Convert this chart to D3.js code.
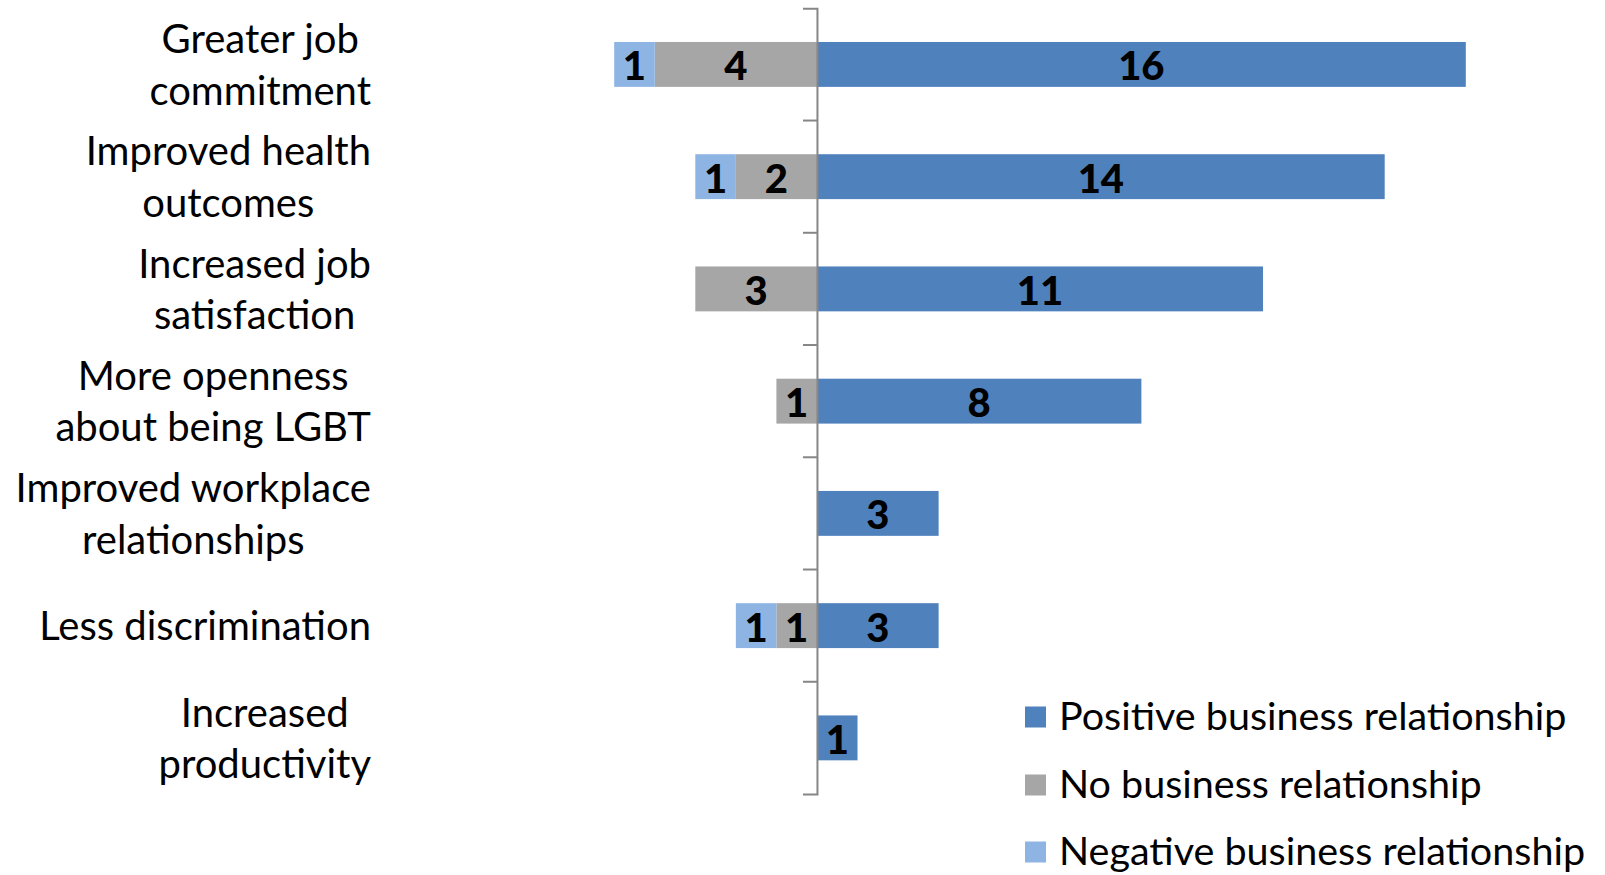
<!DOCTYPE html>
<html>
<head>
<meta charset="utf-8">
<script src="https://cdn.jsdelivr.net/npm/d3@7"></script>
<style>
  body { margin: 0; background: #fff; }
  svg { display: block; font-family: Lato, "Open Sans", sans-serif; }
</style>
</head>
<body>
<svg id="chart" width="1605" height="875"></svg>
<script>
const categories = [
  ['Greater job', 'commitment'],
  ['Improved health', 'outcomes'],
  ['Increased job', 'satisfaction'],
  ['More openness', 'about being LGBT'],
  ['Improved workplace', 'relationships'],
  ['Less discrimination'],
  ['Increased', 'productivity']
]
const positive = [16, 14, 11, 8, 3, 3, 1]
const noRel = [4, 2, 3, 1, 0, 1, 0]
const negative = [1, 1, 0, 0, 0, 1, 0]
const seriesNames = ['Positive business relationship', 'No business relationship', 'Negative business relationship']
const colors = ['#4f81bd', '#a6a6a6', '#8eb4e3']

let svg = d3.select('#chart')
let keys = categories.map((c) => c.join(' '))
let fontSize = 40

let x = d3.scaleLinear().domain([-5, 16]).range([614.2, 1465.8])
let y = d3.scaleBand().domain(keys).range([8.3, 794]).paddingInner(0.6).paddingOuter(0.3)

// segments: [start, end, value, colour]
let segs = []
keys.forEach((k, i) => {
  segs.push({ k, a: 0, b: positive[i], v: positive[i], c: colors[0] })
  segs.push({ k, a: -noRel[i], b: 0, v: noRel[i], c: colors[1] })
  segs.push({ k, a: -noRel[i] - negative[i], b: -noRel[i], v: negative[i], c: colors[2] })
})
segs = segs.filter((d) => d.v > 0)

svg.append('g').selectAll('rect')
  .data(segs)
  .join('rect')
  .attr('x', (d) => x(d.a))
  .attr('y', (d) => y(d.k))
  .attr('width', (d) => x(d.b) - x(d.a))
  .attr('height', y.bandwidth())
  .attr('fill', (d) => d.c)

// axis at zero
let axis = svg.append('g')
  .attr('transform', `translate(${x(0)},0)`)
  .call(d3.axisLeft(y).tickSize(0).tickSizeOuter(14).tickFormat(''))
axis.select('.domain').attr('stroke', '#868686').attr('stroke-width', 2)
let pad = y.step() * y.paddingOuter()
axis.selectAll('line.bnd')
  .data(keys.slice(1))
  .join('line')
  .attr('class', 'bnd')
  .attr('x1', -14).attr('x2', 0)
  .attr('y1', (k) => y(k) - pad).attr('y2', (k) => y(k) - pad)
  .attr('stroke', '#868686').attr('stroke-width', 2)

// data labels
svg.append('g').selectAll('text')
  .data(segs)
  .join('text')
  .attr('x', (d) => (x(d.a) + x(d.b)) / 2)
  .attr('y', (d) => y(d.k) + y.bandwidth() / 2)
  .attr('dy', '0.4em')
  .attr('text-anchor', 'middle')
  .attr('font-weight', 900)
  .attr('font-size', fontSize)
  .attr('fill', '#000')
  .text((d) => d.v)

// category labels, wrapped lines centred within a right-aligned block
let labelRight = 371
let lineH = 51.5
let lg = svg.append('g')
categories.forEach((lines, i) => {
  let g = lg.append('g')
  let cy = y(keys[i]) + y.bandwidth() / 2
  let texts = lines.map((l, j) => g.append('text')
    .attr('font-size', fontSize)
    .attr('y', cy + (j - (lines.length - 1) / 2) * lineH)
    .attr('dy', '0.36em')
    .attr('text-anchor', 'middle')
    .text(l))
  let w = d3.max(texts, (t) => t.node().getComputedTextLength())
  texts.forEach((t) => t.attr('x', labelRight - w / 2))
})

// legend
let leg = svg.append('g')
let legY = [717, 785, 852]
seriesNames.forEach((n, i) => {
  leg.append('rect')
    .attr('x', 1025).attr('y', legY[i] - 10.5)
    .attr('width', 21).attr('height', 21)
    .attr('fill', colors[i])
  leg.append('text')
    .attr('x', 1059).attr('y', legY[i])
    .attr('dy', '0.33em')
    .attr('font-size', 39.5)
    .text(n)
})
</script>
</body>
</html>
